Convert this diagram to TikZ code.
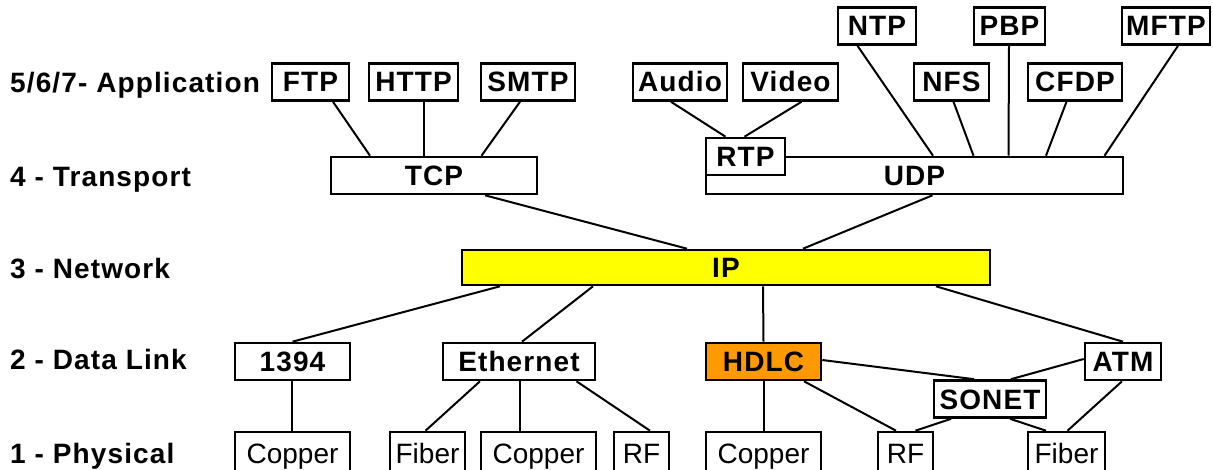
\documentclass[tikz,border=0pt]{standalone}
\usepackage{fontspec}
\setmainfont{Liberation Sans}
\newfontfamily\layerfont{Liberation Sans}[LetterSpace=4.0]
\usetikzlibrary{calc}
\definecolor{ipyellow}{RGB}{255,255,0}
\definecolor{hdlcorange}{RGB}{255,153,0}

\begin{document}
\begin{tikzpicture}[x=1pt,y=-1pt,
  proto/.style={draw,line width=2.6pt,fill=white,inner sep=0pt,minimum height=37pt,
    text height=20pt,text depth=0pt,font=\fontsize{28}{30}\layerfont\bfseries},
  medium/.style={draw,line width=2.6pt,fill=white,inner sep=0pt,minimum height=42pt,
    text height=20pt,text depth=0pt,font=\fontsize{28}{30}\selectfont},
  layer/.style={anchor=west,inner sep=0pt,text height=20pt,text depth=0pt,
    font=\fontsize{28}{30}\layerfont\bfseries},
  link/.style={line width=2pt}]
  \useasboundingbox (0,0) rectangle (1213,470);

  % layer names
  \node[layer] (l7) at (10,83) {5/6/7- Application};
  \node[layer] (l4) at (10,177) {4 - Transport};
  \node[layer] (l3) at (10,269) {3 - Network};
  \node[layer] (l2) at (10,360) {2 - Data Link};
  \node[layer] (l1) at (10,453) {1 - Physical};

  % application
  \node[proto,minimum width=77pt] (ftp) at (310.5,82) {FTP};
  \node[proto,minimum width=89pt] (http) at (413.5,82) {HTTP};
  \node[proto,minimum width=94pt] (smtp) at (528,82) {SMTP};
  \node[proto,minimum width=94pt] (audio) at (680,82) {Audio};
  \node[proto,minimum width=95pt] (video) at (790.5,82) {Video};
  \node[proto,minimum width=75pt] (nfs) at (951.5,82) {NFS};
  \node[proto,minimum width=94pt] (cfdp) at (1075,82) {CFDP};
  \node[proto,minimum width=78pt] (ntp) at (877,26) {NTP};
  \node[proto,minimum width=71pt] (pbp) at (1009.5,26) {PBP};
  \node[proto,minimum width=88pt] (mftp) at (1166,26) {MFTP};

  % transport
  \node[proto,minimum width=206pt] (tcp) at (434,175.5) {TCP};
  \node[proto,minimum width=417pt] (udp) at (914.5,175.5) {UDP};
  \node[proto,minimum width=79pt] (rtp) at (745.5,156.5) {RTP};

  % network
  \node[proto,fill=ipyellow,minimum width=528pt,minimum height=35pt] (ip) at (726,267.5) {IP};

  % data link
  \node[proto,minimum width=115pt] (fw) at (292.5,361.5) {1394};
  \node[proto,minimum width=152pt] (eth) at (519,361.5) {Ethernet};
  \node[proto,fill=hdlcorange,minimum width=115pt] (hdlc) at (763.5,361.5) {HDLC};
  \node[proto,minimum width=76pt] (atm) at (1123,361.5) {ATM};
  \node[proto,minimum width=112pt] (sonet) at (990,399) {SONET};

  % physical (bottom edge runs off the page)
  \node[medium,minimum width=115pt] (copperA) at (292.5,453) {Copper};
  \node[medium,minimum width=75pt] (fiberA) at (427.5,453) {Fiber};
  \node[medium,minimum width=115pt] (copperB) at (538.5,453) {Copper};
  \node[medium,minimum width=55pt] (rfA) at (641.5,453) {RF};
  \node[medium,minimum width=115pt] (copperC) at (763.5,453) {Copper};
  \node[medium,minimum width=55pt] (rfB) at (905.5,453) {RF};
  \node[medium,minimum width=77pt] (fiberB) at (1066.5,453) {Fiber};

  % upper.south -- lower.north, with offsets along x
  \foreach \a/\da/\b/\db in {ftp/22.5/tcp/-64, http/10.5/tcp/-10, smtp/-8/tcp/47.5,
      audio/-9/rtp/-20, video/11/rtp/-1,
      ntp/-19.5/udp/18.5, nfs/2/udp/59, pbp/-0.5/udp/94, cfdp/-8.5/udp/131.5, mftp/12/udp/190,
      tcp/51/ip/-39, udp/18/ip/77,
      ip/-226/fw/0, ip/-133/eth/3, ip/37/hdlc/0, ip/210/atm/0,
      fw/-1/copperA/-1, eth/-39/fiberA/-2, eth/1/copperB/-18.5, eth/57.5/rfA/8.5,
      hdlc/0/copperC/0, hdlc/40.5/rfB/-9.5, sonet/-39/rfB/10, sonet/20/fiberB/-20.5,
      atm/-1/fiberB/1}
    \draw[link] ($(\a.south)+(\da,0)$) -- ($(\b.north)+(\db,0)$);
  \draw[link] ($(hdlc.east)+(0,-1.5)$) -- ($(sonet.north)+(-16,0)$);
  \draw[link] ($(atm.west)+(0,-2.5)$) -- ($(sonet.north)+(21,0)$);
\end{tikzpicture}
\end{document}
